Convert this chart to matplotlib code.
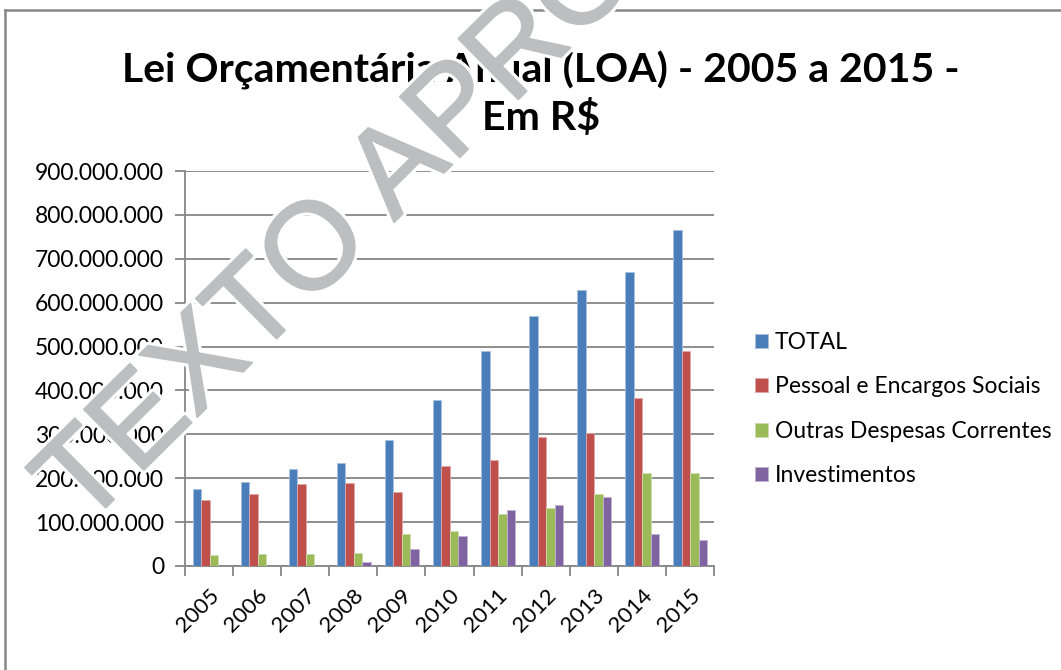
import matplotlib
matplotlib.use("Agg")
import matplotlib.pyplot as plt
import matplotlib.patheffects as pe
import numpy as np

years = ["2005", "2006", "2007", "2008", "2009", "2010", "2011", "2012", "2013", "2014", "2015"]
total = [176e6, 192e6, 221e6, 234e6, 287e6, 379e6, 491e6, 570e6, 628e6, 669e6, 765e6]
pessoal = [150e6, 163e6, 186e6, 188e6, 169e6, 228e6, 242e6, 294e6, 302e6, 383e6, 490e6]
outras = [24e6, 27e6, 28e6, 30e6, 74e6, 79e6, 119e6, 132e6, 164e6, 211e6, 211e6]
invest = [0, 0, 1e6, 9e6, 39e6, 68e6, 128e6, 139e6, 158e6, 72e6, 59e6]
series_names = ["TOTAL", "Pessoal e Encargos Sociais", "Outras Despesas Correntes", "Investimentos"]
colors = ["#4A7EBB", "#C0504D", "#9BBB59", "#8064A2"]
edges = ["#A7C0DE", "#E0A8A6", "#CDDDAC", "#BFB1D0"]
yticks = [0, 100e6, 200e6, 300e6, 400e6, 500e6, 600e6, 700e6, 800e6, 900e6]

W, H = 1061, 670
fig = plt.figure(figsize=(W / 100, H / 100), dpi=100)
fig.patch.set_facecolor("white")

# outer chart frame (left and top visible)
fig.add_artist(plt.Line2D([5 / W, 5 / W], [0, 1 - 10 / H], color="#878787", lw=1.8))
fig.add_artist(plt.Line2D([5 / W, 1], [1 - 10 / H, 1 - 10 / H], color="#878787", lw=1.8))

ax = fig.add_axes([185 / W, 1 - 566 / H, (714 - 185) / W, (566 - 171) / H])
x = np.arange(len(years))
bw = 0.177
data = [total, pessoal, outras, invest]
for i, (vals, c, ec, name) in enumerate(zip(data, colors, edges, series_names)):
    ax.bar(x + (i - 1.5) * bw + 0.01, vals, width=bw, color=c, edgecolor=ec, linewidth=0.6,
           label=name, zorder=3)

ax.set_xlim(-0.5, len(years) - 0.5)
ax.set_ylim(0, 900e6)
ax.set_yticks(yticks)
ax.set_yticklabels([f"{int(v):,}".replace(",", ".") for v in yticks])
ax.yaxis.grid(True, color="#868686", lw=1.3, zorder=0)
ax.set_axisbelow(True)
for s in ["top", "right"]:
    ax.spines[s].set_visible(False)
for s in ["left", "bottom"]:
    ax.spines[s].set_color("#868686")
    ax.spines[s].set_linewidth(1.3)
ax.set_xticks(np.arange(len(years) + 1) - 0.5, minor=False)
ax.set_xticklabels([""] * (len(years) + 1))
ax.set_xticks(x, minor=True)
ax.set_xticklabels(years, minor=True, rotation=45, ha="right", rotation_mode="anchor",
                   fontsize=16, family="Lato")
ax.tick_params(axis="x", which="minor", length=0, pad=14)
ax.tick_params(axis="x", which="major", length=7, color="#868686", width=1.3, direction="out")
ax.tick_params(axis="y", length=7, color="#868686", width=1.3, direction="out", pad=8)
for t in ax.get_yticklabels():
    t.set_family("Lato")
    t.set_fontsize(16.5)

fig.text(541 / W, 1 - 94 / H, "Lei Orçamentária Anual (LOA) - 2005 a 2015 -\nEm R$",
         ha="center", va="center", fontsize=29.5, fontweight="bold", family="Lato",
         linespacing=1.27)

ax.legend(loc="center left", bbox_to_anchor=(755 / W, 1 - 409 / H),
          bbox_transform=fig.transFigure, frameon=False, borderaxespad=0, borderpad=0,
          prop={"family": "Lato", "size": 16.5}, handlelength=0.57, handleheight=0.57,
          handletextpad=0.3, labelspacing=1.02)

wm_gray = "#BCBEC0"
fig.text(83 / W, 1 - 530 / H, "TEXTO APROVADO", rotation=44.7, rotation_mode="anchor",
         ha="left", va="baseline", fontsize=89, family="Liberation Sans", color=wm_gray,
         path_effects=[pe.withStroke(linewidth=6, foreground="white"),
                       pe.withStroke(linewidth=1.5, foreground=wm_gray)], zorder=20)

fig.savefig("out.png", dpi=100, facecolor="white")
